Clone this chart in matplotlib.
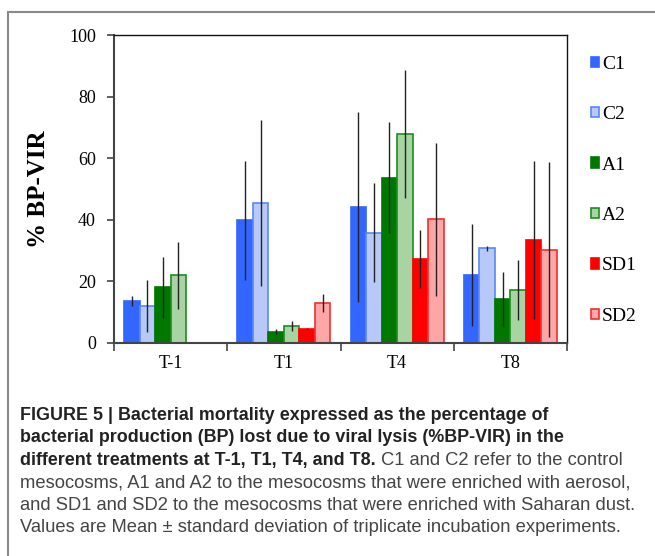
import numpy as np
import matplotlib.pyplot as plt
from matplotlib.patches import Rectangle

# data (% BP-VIR, mean and sd)
times = ["T-1", "T1", "T4", "T8"]
series = ["C1", "C2", "A1", "A2", "SD1", "SD2"]

C1 = [13.6, 39.8, 44.1, 22.0]
C2 = [11.9, 45.6, 35.8, 30.7]
A1 = [18.0, 3.5, 53.7, 14.1]
A2 = [21.9, 5.4, 67.9, 17.1]
SD1 = [np.nan, 4.6, 27.2, 33.4]
SD2 = [np.nan, 13.0, 40.1, 30.3]

C1_sd = [1.6, 19.3, 30.9, 16.5]
C2_sd = [8.5, 27.0, 16.2, 0.9]
A1_sd = [10.0, 0.8, 18.0, 9.0]
A2_sd = [10.8, 1.5, 20.9, 9.8]
SD1_sd = [np.nan, 0.2, 9.3, 25.8]
SD2_sd = [np.nan, 2.9, 25.0, 28.6]

means = [C1, C2, A1, A2, SD1, SD2]
sds = [C1_sd, C2_sd, A1_sd, A2_sd, SD1_sd, SD2_sd]
fills = ["#3366FF", "#B8C8F8", "#007800", "#A8D4A4", "#FF0000", "#FFA6A6"]
edges = ["#3366FF", "#5A86F6", "#007800", "#1F8C1F", "#FF0000", "#F03030"]

plt.rcParams["font.family"] = ["Liberation Serif", "DejaVu Serif"]

fig = plt.figure(figsize=(6.55, 5.56), dpi=100)

# grey frame around the whole figure panel
fig.patches.append(Rectangle((8 / 655, -0.1), 1.2, 1 - 12 / 556 + 0.1,
                             transform=fig.transFigure, fill=False,
                             edgecolor="#8a8a8a", linewidth=1.5))

ax = fig.add_axes([114 / 655, 1 - 342.7 / 556, 453 / 655, 307.4 / 556])

x = np.arange(len(times))
w = 0.82 / 6
for i, name in enumerate(series):
    pos = x - 0.41 + w * (i + 0.5)
    ax.bar(pos, means[i], width=w, color=fills[i], edgecolor=edges[i],
           linewidth=1.2, label=name, zorder=2)
    ax.errorbar(pos, means[i], yerr=sds[i], fmt="none", ecolor="#222222",
                elinewidth=1.0, capsize=0, zorder=3)

ax.set_xlim(-0.5, len(times) - 0.5)
ax.set_ylim(0, 100)
ax.set_yticks([0, 20, 40, 60, 80, 100])
ax.set_xticks(np.arange(len(times) + 1) - 0.5)
ax.set_xticklabels([])
ax.set_xticks(x, minor=True)
ax.set_xticklabels(times, minor=True)
ax.tick_params(axis="x", which="minor", length=0, pad=9, labelsize=13)
ax.tick_params(axis="x", which="major", length=6, width=1.2, color="#444444")
ax.tick_params(axis="y", length=5, width=1.2, color="#444444", labelsize=13, pad=8)

for s in ["left", "bottom"]:
    ax.spines[s].set_color("#444444")
    ax.spines[s].set_linewidth(1.5)
for s in ["top", "right"]:
    ax.spines[s].set_color("#111111")
    ax.spines[s].set_linewidth(1.0)

ax.set_ylabel("% BP-VIR", fontsize=18, fontweight="bold", labelpad=14)

ax.legend(loc="upper left", bbox_to_anchor=(1.022, 0.978), frameon=False,
          handlelength=0.45, handleheight=0.45, handletextpad=0.15,
          labelspacing=1.72, fontsize=14, borderaxespad=0.3)

# caption
cap_font = ["Liberation Sans", "DejaVu Sans"]
bold_lines = ["FIGURE 5 | Bacterial mortality expressed as the percentage of",
              "bacterial production (BP) lost due to viral lysis (%BP-VIR) in the",
              "different treatments at T-1, T1, T4, and T8."]
plain_lines = ["mesocosms, A1 and A2 to the mesocosms that were enriched with aerosol,",
               "and SD1 and SD2 to the mesocosms that were enriched with Saharan dust.",
               "Values are Mean \u00b1 standard deviation of triplicate incubation experiments."]
y0 = 420
dy = 22.4
last = None
for k, line in enumerate(bold_lines):
    last = fig.text(20 / 655, 1 - (y0 + k * dy) / 556, line, family=cap_font,
                    fontsize=12.9, fontweight="bold", color="#222222", va="baseline")
fig.canvas.draw()
bb = last.get_window_extent(renderer=fig.canvas.get_renderer())
fig.text(bb.x1 / fig.bbox.width, 1 - (y0 + 2 * dy) / 556,
         " C1 and C2 refer to the control", family=cap_font, fontsize=13.2,
         color="#444444", va="baseline")
for k, line in enumerate(plain_lines):
    fig.text(20 / 655, 1 - (y0 + (k + 3) * dy) / 556, line, family=cap_font,
             fontsize=13.2, color="#444444", va="baseline")

fig.savefig("out.png", dpi=100)
